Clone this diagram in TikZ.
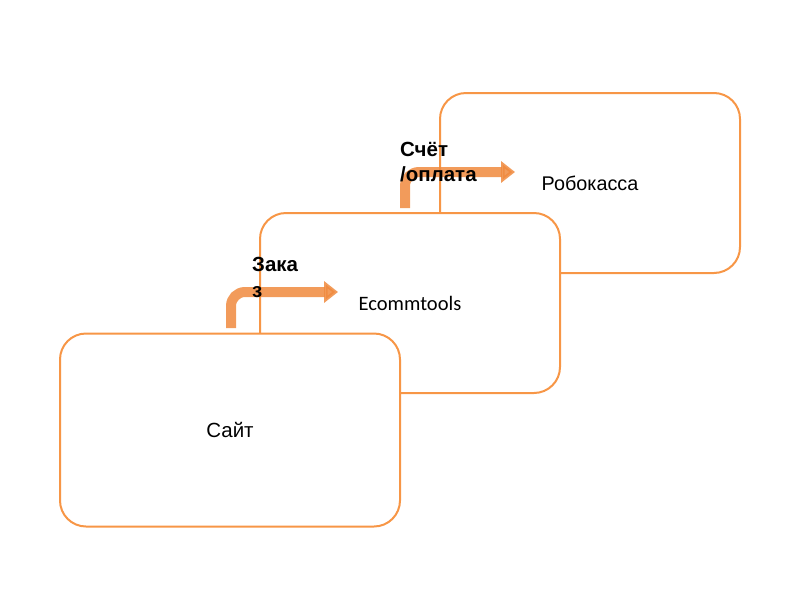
\documentclass[tikz,border=0pt]{standalone}
\usepackage{fontspec}
\setmainfont{Liberation Sans}
\newfontfamily\calib{Carlito}
\usetikzlibrary{arrows.meta}
\definecolor{boxorange}{HTML}{F79646}
\definecolor{arroworange}{HTML}{F08A3E}
\tikzset{
  box/.style={draw=boxorange, line width=2pt, fill=white, rounded corners=26pt, inner sep=0pt},
  flowarrow/.style={arroworange, line width=10pt, opacity=0.85, rounded corners=14pt,
    -{Triangle[length=14pt, width=21pt]}},
  lbl/.style={font=\fontsize{20.5}{25}\selectfont\bfseries, align=left, inner sep=0pt, anchor=base west}
}
\begin{document}
\begin{tikzpicture}[x=1pt,y=-1pt]
\useasboundingbox (0,0) rectangle (800,600);
\node[box, minimum width=300pt, minimum height=180pt] (robo) at (590,183)
  {\fontsize{19.8}{22}\selectfont Робокасса};
\node[box, minimum width=300pt, minimum height=180pt] (ecom) at (410,303)
  {\calib\fontsize{20.5}{24}\selectfont Ecommtools};
\node[box, minimum width=340pt, minimum height=193pt] (site) at (230,430)
  {\fontsize{20.5}{22}\selectfont Сайт};
% arrows
\coordinate (a1s) at (231,328);
\coordinate (a1c) at (231,292);
\coordinate (a1e) at (338,292);
\coordinate (a2s) at (405,208);
\coordinate (a2c) at (405,172);
\coordinate (a2e) at (515,172);
\draw[flowarrow] (a1s) -- (a1c) -- (a1e);
\draw[flowarrow] (a2s) -- (a2c) -- (a2e);
% labels
\node[lbl] (l1) at (252,271) {Зака};
\node[lbl] (l1b) at (252,297) {з};
\node[lbl] (l2) at (400,156) {Счёт};
\node[lbl] (l2b) at (400,181) {/оплата};
\end{tikzpicture}
\end{document}
